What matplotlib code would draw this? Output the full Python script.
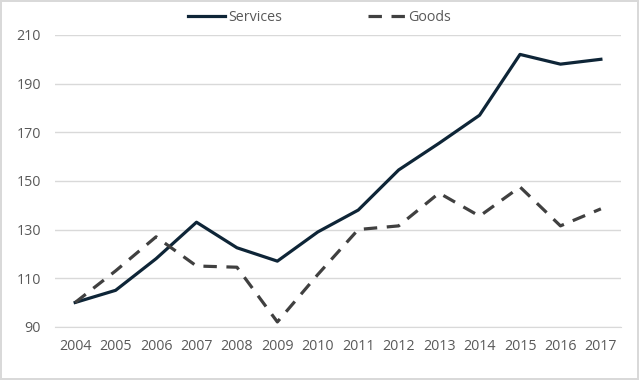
import numpy as np
import matplotlib.pyplot as plt

years = ['2004', '2005', '2006', '2007', '2008', '2009', '2010',
         '2011', '2012', '2013', '2014', '2015', '2016', '2017']
services = [100, 105, 118, 133, 122.5, 117, 129, 138, 154.5, 165.5, 177, 202, 198, 200]
goods = [100, 113, 127, 115, 114.5, 92, 111.5, 130, 131.5, 145, 135.5, 147.5, 131.5, 138.5]

plt.rcParams['font.family'] = ['Open Sans', 'DejaVu Sans']

fig = plt.figure(figsize=(6.39, 3.8), dpi=100)
fig.patch.set_edgecolor('#d9d9d9')
fig.patch.set_linewidth(1.5)
ax = fig.add_axes([0.086, 0.14, 0.886, 0.768])

x = np.arange(len(years))
ax.plot(x, services, color='#0e2537', lw=2.3, label='Services')
ax.plot(x, goods, color='#404040', lw=2.3, dashes=(4.2, 3), label='Goods')

ax.set_xlim(-0.5, len(years) - 0.5)
ax.set_ylim(90, 210)
ax.set_yticks(np.arange(90, 211, 20))
ax.set_xticks(x)
ax.set_xticklabels(years)
ax.grid(axis='y', color='#d9d9d9', lw=1)
ax.set_axisbelow(True)
for s in ['top', 'right', 'left']:
    ax.spines[s].set_visible(False)
ax.spines['bottom'].set_color('#d9d9d9')
ax.tick_params(length=0, labelsize=10.3, colors='#595959')
ax.tick_params(axis='y', pad=10)
ax.tick_params(axis='x', pad=9)

fig.legend(loc='center', bbox_to_anchor=(0.5, 0.955), ncol=2, frameon=False,
           fontsize=10.3, handlelength=2.6, columnspacing=6, handletextpad=0.2,
           labelcolor='#595959')

fig.savefig('out.png', dpi=100)
